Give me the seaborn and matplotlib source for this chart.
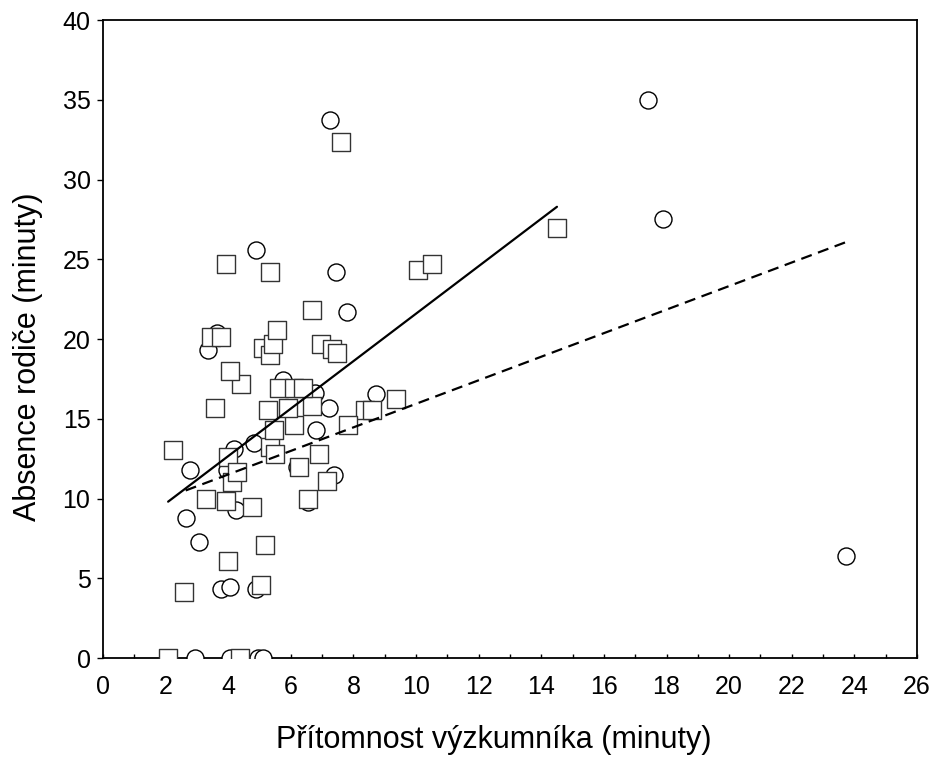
import matplotlib
matplotlib.use("Agg")
import matplotlib.pyplot as plt
import numpy as np
import pandas as pd
import seaborn as sns

# Squares (solid regression line)
sq_x = [2.08, 4.36, 2.23, 2.58, 3.29, 3.93, 3.98, 3.98, 4.13, 4.27,
        5.05, 5.19, 4.76, 5.34, 5.48, 5.47, 6.09, 6.26, 6.54, 7.15,
        6.89, 5.26, 5.91, 6.68, 3.57, 5.63, 6.11, 6.40, 4.41, 4.06,
        5.12, 5.34, 5.42, 5.55, 3.45, 3.77, 6.96, 7.30, 7.46, 6.68,
        3.93, 5.34, 10.07, 10.50, 7.60, 14.50, 8.37, 8.58, 9.36, 7.82]
sq_y = [0.0, 0.0, 13.05, 4.15, 10.0, 9.85, 6.1, 12.6, 11.05, 11.65,
        4.58, 7.1, 9.45, 13.2, 12.8, 14.3, 14.6, 11.95, 10.0, 11.1,
        12.8, 15.55, 15.65, 15.8, 15.7, 16.95, 16.95, 16.95, 17.2, 18.0,
        19.45, 19.0, 19.7, 20.55, 20.1, 20.15, 19.7, 19.4, 19.15, 21.8,
        24.7, 24.2, 24.3, 24.7, 32.35, 26.95, 15.55, 15.55, 16.25, 14.6]

# Circles (dashed regression line)
ci_x = [2.94, 4.06, 4.96, 5.10, 3.76, 4.06, 4.89, 3.07, 2.64, 4.25,
        6.54, 2.78, 3.95, 6.19, 7.38, 4.18, 4.82, 6.80, 7.23, 6.78,
        5.74, 8.72, 3.34, 3.63, 7.80, 7.44, 4.90, 7.25, 17.42, 17.90,
        23.73]
ci_y = [0.0, 0.0, 0.0, 0.0, 4.3, 4.47, 4.3, 7.25, 8.75, 9.3,
        9.75, 11.8, 11.8, 11.95, 11.45, 13.1, 13.5, 14.3, 15.7, 16.6,
        17.4, 16.55, 19.33, 20.35, 21.7, 24.2, 25.55, 33.7, 34.98, 27.5,
        6.4]

squares = pd.DataFrame({"x": sq_x, "y": sq_y})
circles = pd.DataFrame({"x": ci_x, "y": ci_y})

sns.set_style("ticks")
plt.rcParams["font.family"] = ["Liberation Sans", "DejaVu Sans"]
plt.rcParams["text.color"] = "black"
plt.rcParams["axes.labelcolor"] = "black"
plt.rcParams["xtick.color"] = "black"
plt.rcParams["ytick.color"] = "black"

fig = plt.figure(figsize=(9.39, 7.6), dpi=100)
ax = fig.add_axes([103 / 939, 1 - 658 / 760, 814 / 939, 638 / 760])

sns.scatterplot(data=circles, x="x", y="y", marker="o", s=150,
                facecolor="white", edgecolor="black", linewidth=1.0,
                ax=ax, zorder=3)
sns.scatterplot(data=squares, x="x", y="y", marker="s", s=170,
                facecolor="white", edgecolor="#333333", linewidth=1.0,
                ax=ax, zorder=3)

# Regression lines over each group's data range
sns.regplot(data=squares, x="x", y="y", scatter=False, ci=None,
            color="black", line_kws={"lw": 1.6, "zorder": 4}, ax=ax)
sns.regplot(data=circles, x="x", y="y", scatter=False, ci=None,
            color="black", line_kws={"lw": 1.6, "ls": (0, (5, 3)), "zorder": 4},
            ax=ax)

ax.set_xlim(0, 26)
ax.set_ylim(0, 40)
ax.set_xticks(np.arange(0, 27, 2))
ax.set_xticks(np.arange(0, 27, 1), minor=True)
ax.set_yticks(np.arange(0, 41, 5))
ax.tick_params(axis="x", which="both", direction="in", length=3, width=1,
               labelsize=18, pad=12, colors="black")
ax.tick_params(axis="y", direction="out", length=4, width=1,
               labelsize=18, pad=5, colors="black")
for s in ax.spines.values():
    s.set_linewidth(1.3)
    s.set_color("black")
    s.set_visible(True)

ax.set_xlabel("Přítomnost výzkumníka (minuty)", fontsize=22, color="black")
ax.set_ylabel("Absence rodiče (minuty)", fontsize=22, color="black")
ax.xaxis.set_label_coords(0.48, -0.105)
ax.yaxis.set_label_coords(-0.074, 0.472)

fig.savefig("out.png", dpi=100)
